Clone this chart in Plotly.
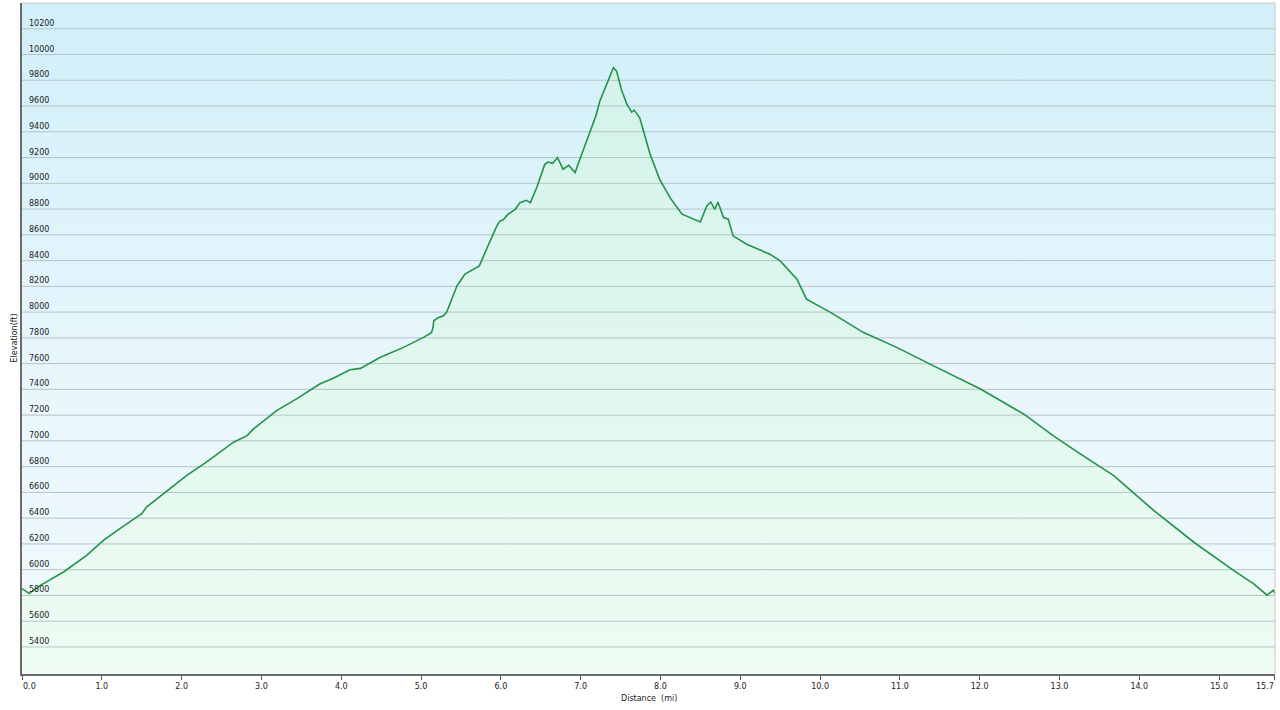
import plotly.graph_objects as go

distance_mi = [0.00, 0.09, 0.23, 0.52, 0.81, 1.02, 1.23, 1.50, 1.56, 1.85, 2.06, 2.31,
               2.65, 2.82, 2.90, 3.19, 3.44, 3.73, 3.90, 4.11, 4.24, 4.49, 4.78, 5.03,
               5.13, 5.15, 5.16, 5.22, 5.28, 5.32, 5.45, 5.55, 5.66, 5.73, 5.82, 5.95,
               5.99, 6.03, 6.09, 6.18, 6.24, 6.32, 6.37, 6.45, 6.55, 6.59, 6.65, 6.71,
               6.74, 6.78, 6.85, 6.93, 6.99, 7.08, 7.19, 7.24, 7.33, 7.41, 7.45, 7.51,
               7.58, 7.64, 7.67, 7.74, 7.87, 7.99, 8.12, 8.27, 8.50, 8.58, 8.63, 8.68,
               8.72, 8.79, 8.85, 8.91, 9.08, 9.37, 9.50, 9.69, 9.71, 9.83, 10.13, 10.54,
               10.96, 11.46, 12.01, 12.55, 12.92, 13.26, 13.68, 14.18, 14.68, 15.18,
               15.43, 15.60, 15.68, 15.70]
elevation_ft = [5853, 5814, 5878, 5982, 6111, 6227, 6320, 6434, 6486, 6628, 6731, 6835,
                6990, 7041, 7093, 7235, 7326, 7442, 7486, 7553, 7563, 7649, 7726, 7804,
                7840, 7880, 7933, 7959, 7972, 7998, 8204, 8295, 8333, 8359, 8488, 8669,
                8708, 8716, 8760, 8798, 8850, 8868, 8850, 8967, 9147, 9165, 9155, 9199,
                9160, 9109, 9140, 9083, 9186, 9341, 9522, 9638, 9780, 9897, 9871, 9729,
                9612, 9553, 9568, 9509, 9225, 9031, 8889, 8760, 8700, 8824, 8855, 8798,
                8855, 8734, 8721, 8592, 8527, 8450, 8398, 8269, 8256, 8101, 7998, 7843,
                7726, 7571, 7403, 7209, 7041, 6899, 6731, 6460, 6215, 5995,
                5892, 5802, 5840, 5814]

x_tick_vals = [0, 1, 2, 3, 4, 5, 6, 7, 8, 9, 10, 11, 12, 13, 14, 15, 15.7]
x_tick_text = ["0.0", "1.0", "2.0", "3.0", "4.0", "5.0", "6.0", "7.0", "8.0", "9.0",
               "10.0", "11.0", "12.0", "13.0", "14.0", "15.0", "15.7"]
y_tick_vals = list(range(5400, 10201, 200))
y_tick_text = [str(v) for v in y_tick_vals]

X_MIN, X_MAX = 0, 15.7
Y_MIN, Y_MAX = 5190, 10400

fig = go.Figure()

# gradient background of the plot area
fig.add_trace(go.Scatter(
    x=[X_MIN, X_MAX, X_MAX, X_MIN, X_MIN], y=[Y_MIN, Y_MIN, Y_MAX, Y_MAX, Y_MIN],
    mode="lines", line=dict(width=0), fill="toself",
    fillgradient=dict(type="vertical", start=Y_MIN, stop=Y_MAX,
                      colorscale=[[0, "#f1fafc"], [0.45, "#e8f6fc"], [1, "#d0eff9"]]),
    hoverinfo="skip", showlegend=False))

# area under the profile
fig.add_trace(go.Scatter(
    x=distance_mi + [X_MAX, X_MIN], y=elevation_ft + [Y_MIN, Y_MIN],
    mode="lines", line=dict(width=0), fill="toself",
    fillgradient=dict(type="vertical", start=Y_MIN, stop=9900,
                      colorscale=[[0, "#eefcf2"], [0.5, "#e0f7ee"], [1, "#d4f3ea"]]),
    hoverinfo="skip", showlegend=False))

# horizontal gridlines, drawn over the fills
gx, gy = [], []
for v in y_tick_vals:
    gx += [X_MIN, X_MAX, None]
    gy += [v, v, None]
fig.add_trace(go.Scatter(x=gx, y=gy, mode="lines",
                         line=dict(color="#b4c3c7", width=1),
                         hoverinfo="skip", showlegend=False))

# profile line
fig.add_trace(go.Scatter(
    x=distance_mi, y=elevation_ft, mode="lines",
    line=dict(color="#23924a", width=1.6), showlegend=False))

# y tick labels sit inside the plot, left-aligned just above each gridline
annotations = [
    dict(text=t, xref="paper", yref="y", x=0, y=v, xanchor="left", yanchor="bottom",
         xshift=5, yshift=-1, showarrow=False, font=dict(size=8, color="#222222"))
    for v, t in zip(y_tick_vals, y_tick_text)
]
# first and last x tick labels are kept inside the axis ends
annotations += [
    dict(text=x_tick_text[0], xref="x", yref="paper", x=x_tick_vals[0], y=0,
         xanchor="left", yanchor="top", yshift=-6, xshift=-1,
         showarrow=False, font=dict(size=8, color="#222222")),
    dict(text=x_tick_text[-1], xref="x", yref="paper", x=x_tick_vals[-1], y=0,
         xanchor="right", yanchor="top", yshift=-6, xshift=1,
         showarrow=False, font=dict(size=8, color="#222222")),
]
annotations += [
    dict(text="Elevation(ft)", xref="paper", yref="paper", x=0, y=0.5,
         xanchor="center", yanchor="middle", xshift=-8, textangle=-90,
         showarrow=False, font=dict(size=8)),
    dict(text="Distance&nbsp;&nbsp;(mi)", xref="paper", yref="paper", x=0.5, y=0,
         xanchor="center", yanchor="middle", yshift=-24,
         showarrow=False, font=dict(size=8)),
]
axis_tick_text = [""] + x_tick_text[1:-1] + [""]

fig.update_layout(
    width=1280, height=710,
    margin=dict(l=22, r=5, t=3, b=36),
    paper_bgcolor="white", plot_bgcolor="white",
    font=dict(family="DejaVu Sans, Verdana, sans-serif", size=8, color="#222222"),
    xaxis=dict(range=[X_MIN - 0.0005, X_MAX + 0.0005], tickvals=x_tick_vals,
               ticktext=axis_tick_text, automargin=False,
               showgrid=False, zeroline=False, showline=True, linecolor="#6a6a6a",
               linewidth=1.5, ticks="outside", ticklen=4, tickcolor="#555555",
               tickfont=dict(size=8)),
    yaxis=dict(range=[Y_MIN, Y_MAX], showticklabels=False, ticks="", showgrid=False,
               automargin=False, zeroline=False, showline=True,
               linecolor="#6a6a6a", linewidth=2),
    shapes=[
        dict(type="line", xref="paper", yref="paper", x0=0, x1=1, y0=1, y1=1,
             line=dict(color="#c8c8c8", width=1)),
        dict(type="line", xref="paper", yref="paper", x0=1, x1=1, y0=0, y1=1,
             line=dict(color="#c8c8c8", width=1)),
    ],
    annotations=annotations,
)

fig.write_html("out.html", config={"displayModeBar": False},
               post_script="document.body.style.margin='0px';")
